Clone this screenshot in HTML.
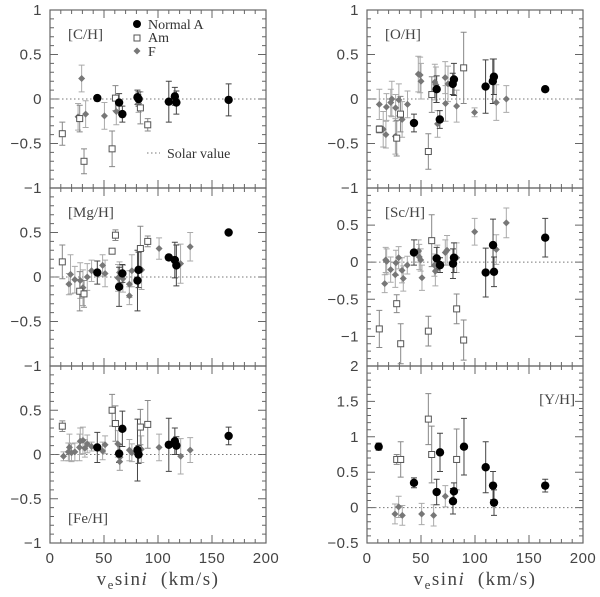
<!DOCTYPE html>
<html><head><meta charset="utf-8"><style>
html,body{margin:0;padding:0;background:#fff;}
svg{display:block;}
.tk{font-family:"Liberation Sans",sans-serif;font-size:15px;fill:#444;letter-spacing:0.5px;}
.lb{font-family:"Liberation Serif",serif;font-size:15px;fill:#444;}
.lg{font-family:"Liberation Serif",serif;font-size:14px;fill:#333;}
</style></head><body>
<svg id="chart" width="600" height="597" viewBox="0 0 600 597" xmlns="http://www.w3.org/2000/svg"></svg>
<script>
// ---- data: [vsini, abundance, error] ----
const C_normal=[[43.8,0.01,0.03],[64,-0.04,0.1],[67,-0.17,0.09],[81,0.02,0.08],[82,0,0.08],[110,-0.03,0.23],[115.6,0.03,0.1],[117,-0.04,0.13],[165.4,-0.01,0.18]];
const C_am=[[11.4,-0.39,0.13],[27.5,-0.22,0.15],[31.5,-0.7,0.14],[57.5,-0.56,0.2],[60.6,0.01,0.14],[83.7,-0.1,0.18],[90.5,-0.29,0.07]];
const C_f=[[29.3,0.23,0.15],[26,-0.2,0.15],[33,-0.17,0.15],[50.4,-0.19,0.15],[61.4,-0.14,0.15],[82,-0.05,0.1]];
const O_normal=[[43.5,-0.27,0.1],[64.5,0.11,0.15],[67.4,-0.23,0.1],[79.4,0.17,0.12],[80.5,0.22,0.18],[109.8,0.14,0.3],[116.5,0.2,0.25],[117.5,0.25,0.2],[165,0.11,0.02]];
const O_am=[[11.4,-0.34,0.04],[27.5,-0.44,0.2],[31,-0.17,0.2],[56.8,-0.59,0.2],[60,0.05,0.2],[89.5,0.35,0.4]];
const O_f=[[11.4,-0.06,0.17],[15,-0.34,0.2],[17.5,-0.4,0.15],[18,-0.09,0.15],[22,-0.04,0.15],[23,0,0.2],[26.5,-0.1,0.15],[26.3,-0.42,0.2],[29.5,-0.01,0.18],[32.5,-0.23,0.2],[37.5,-0.06,0.15],[47.5,0.28,0.2],[50,0.2,0.2],[49.2,0.27,0.2],[62.8,0.19,0.2],[63.8,0.16,0.2],[65.3,-0.28,0.15],[72.7,-0.05,0.2],[72.4,0.24,0.18],[75,0.17,0.2],[83,-0.08,0.18],[99.6,-0.15,0.05],[119.7,-0.04,0.2],[129,0,0.15]];
const Mg_normal=[[43.8,0.05,0.13],[64,-0.11,0.22],[67,0.04,0.1],[81,-0.04,0.34],[82,0.08,0.2],[110,0.22,0.03],[115.6,0.19,0.2],[117,0.13,0.23],[165.4,0.5,0.02]];
const Mg_am=[[11.4,0.17,0.19],[27.5,-0.16,0.22],[31.5,-0.19,0.15],[57.5,0.29,0.02],[60.6,0.47,0.06],[83.7,0.32,0.25],[90.5,0.4,0.06]];
const Mg_f=[[17.5,-0.08,0.12],[19,0.03,0.22],[23,-0.03,0.15],[28,-0.04,0.2],[30.5,-0.12,0.2],[34.5,0,0.15],[38.5,0.07,0.12],[48.7,0.13,0.12],[51,0.04,0.15],[63,-0.01,0.15],[64.4,0.05,0.12],[67.5,-0.02,0.15],[73.5,-0.21,0.1],[73.5,-0.08,0.15],[75.8,0.07,0.18],[84.8,0.08,0.22],[101,0.32,0.12],[120.9,0.15,0.22],[129.8,0.34,0.16]];
const Fe_normal=[[43.8,0.08,0.17],[64,0.01,0.1],[67,0.29,0.2],[81,0.05,0.35],[82,0,0.1],[110,0.11,0.3],[115.6,0.15,0.15],[117,0.1,0.1],[165.4,0.21,0.1]];
const Fe_am=[[11.4,0.32,0.06],[57.5,0.5,0.18],[60.6,0.35,0.2],[83.7,0.31,0.2],[90.5,0.34,0.27]];
const Fe_f=[[12.5,-0.02,0.05],[17,0.03,0.1],[18,0.08,0.15],[19.9,0.02,0.1],[23,0.03,0.1],[27.3,0.08,0.15],[28,0.15,0.15],[30.5,0.16,0.15],[32.3,0.07,0.1],[34.5,0.12,0.1],[38.5,0.09,0.05],[48.7,0.04,0.1],[51,0.11,0.1],[62.8,0.12,0.15],[64.5,-0.08,0.1],[64.8,-0.03,0.15],[73.5,0.05,0.12],[75.8,0.02,0.1],[84.5,0.06,0.15],[101,0.08,0.15],[121,-0.02,0.2],[129.8,0.05,0.14]];
const Sc_normal=[[43.5,0.13,0.17],[64.5,0.05,0.15],[67.6,-0.04,0.1],[79.6,-0.02,0.2],[80.5,0.06,0.2],[109.9,-0.14,0.33],[116.7,0.23,0.35],[117.6,-0.13,0.2],[165,0.33,0.26]];
const Sc_am=[[11.4,-0.9,0.25],[27.5,-0.56,0.12],[31.2,-1.1,0.27],[56.8,-0.93,0.2],[59.9,0.29,0.35],[83,-0.63,0.2],[89.5,-1.05,0.27]];
const Sc_f=[[16.4,-0.29,0.12],[17.3,0.03,0.17],[18.2,0.01,0.17],[21.9,-0.1,0.17],[26.2,-0.17,0.17],[26.8,-0.01,0.17],[29.3,0.06,0.15],[32.4,-0.11,0.17],[33.6,-0.22,0.17],[37.3,-0.04,0.12],[47.8,0.15,0.15],[48.4,0.07,0.17],[49.7,0.03,0.15],[50.9,-0.21,0.17],[62.4,-0.04,0.15],[63.3,-0.12,0.2],[65.1,0.06,0.17],[72.5,0.13,0.17],[74.1,0.16,0.2],[83,0.06,0.2],[99.7,0.41,0.18],[119.7,0.17,0.2],[129,0.53,0.2]];
const Y_normal=[[10.8,0.86,0.05],[43.5,0.35,0.07],[64.5,0.22,0.18],[67.6,0.78,0.27],[79.6,0.09,0.18],[80.5,0.23,0.12],[89.8,0.86,0.4],[109.9,0.57,0.36],[116.7,0.31,0.2],[117.6,0.07,0.18],[165,0.31,0.09]];
const Y_am=[[27.5,0.68,0.07],[31.2,0.68,0.25],[56.8,1.25,0.36],[59.9,0.75,0.4],[83,0.68,0.43]];
const Y_f=[[25.9,-0.09,0.14],[29.3,0.01,0.15],[32.7,-0.11,0.14],[50.6,-0.09,0.15],[61.7,-0.11,0.15],[72.5,0.16,0.15]];
const xTickLabels=["0","50","100","150","200"];
const panelNames=["[C/H]","[O/H]","[Mg/H]","[Sc/H]","[Fe/H]","[Y/H]"];
const yRanges=[[-1,1],[-1,1],[-1,1],[-1.4,1],[-1,1],[-0.5,2]];
const yLabelSets=[[1,0.5,0,-0.5,-1],[1,0.5,0,-0.5,-1],[0.5,0,-0.5,-1],[0.5,0,-0.5,-1],[0.5,0,-0.5,-1],[2,1.5,1,0.5,0,-0.5]];

const NS="http://www.w3.org/2000/svg";
const svg=document.getElementById('chart');
function mk(tag,attrs,parent){const e=document.createElementNS(NS,tag);for(const k in attrs)e.setAttribute(k,attrs[k]);(parent||svg).appendChild(e);return e;}
const cols=[[50,266],[367,583]];
const rows=[[10,188],[188,366],[366,543]];
const datasets=[[C_normal,C_am,C_f],[O_normal,O_am,O_f],[Mg_normal,Mg_am,Mg_f],[Sc_normal,Sc_am,Sc_f],[Fe_normal,Fe_am,Fe_f],[Y_normal,Y_am,Y_f]];
function fmt(v){return (v<0?"\u2212":"")+Math.abs(v);}

datasets.forEach((ds,i)=>{
  const c=cols[i%2], r=rows[Math.floor(i/2)], yr=yRanges[i];
  const X=v=>c[0]+(v/200)*(c[1]-c[0]);
  const Y=v=>r[1]-(v-yr[0])/(yr[1]-yr[0])*(r[1]-r[0]);
  const g=mk('g',{});
  
  
  const fr=mk('rect',{x:c[0],y:r[0],width:c[1]-c[0],height:r[1]-r[0],fill:'none',stroke:'#666','stroke-width':1.2},g);
  
  
  let d='';
  for(let v=0;v<=200;v+=10){const x=X(v),L=(v%50===0)?8:4;d+=`M${x} ${r[0]}v${L}M${x} ${r[1]}v${-L}`;}
  const y0=Math.ceil(yr[0]*10-1e-6);
  for(let k=y0;k<=Math.round(yr[1]*10);k++){const y=Y(k/10),L=(k%5===0)?8:4;d+=`M${c[0]} ${y}h${L}M${c[1]} ${y}h${-L}`;}
  const tk=mk('path',{d:d,stroke:'#666','stroke-width':1,fill:'none'},g);
  
  
  yLabelSets[i].forEach(v=>{const t=mk('text',{x:c[0]-8,y:Y(v)+5,'text-anchor':'end',class:'tk'},g);t.textContent=fmt(v);
    
    });
  const sl=mk('line',{x1:c[0],x2:c[1],y1:Y(0),y2:Y(0),stroke:'#777','stroke-width':1,'stroke-dasharray':'1.5,2.5'},g);
  
  
  const pl = (i===5)?mk('text',{x:c[1]-8,y:r[0]+38,'text-anchor':'end',class:'lb'},g)
            :(i===4)?mk('text',{x:c[0]+18,y:r[1]-20,class:'lb'},g)
            :mk('text',{x:c[0]+18,y:r[0]+29,class:'lb'},g);
  pl.textContent=panelNames[i];
  
  
  const [nrm,am,f]=ds;
  function err(arr,col){arr.forEach(p=>{const x=X(p[0]),ya=Y(p[1]+p[2]),yb=Y(p[1]-p[2]);
    const e=mk('path',{d:`M${x} ${ya}V${yb}M${x-3} ${ya}h6M${x-3} ${yb}h6`,stroke:col,'stroke-width':1,fill:'none'},g);
    
    });}
  err(f,'#aaa');err(am,'#888');err(nrm,'#444');
  f.forEach(p=>{const x=X(p[0]),y=Y(p[1]);const m=mk('path',{d:`M${x} ${y-3.5}L${x+3.5} ${y}L${x} ${y+3.5}L${x-3.5} ${y}Z`,fill:'#777'},g);
    
    });
  am.forEach(p=>{const x=X(p[0]),y=Y(p[1]);const m=mk('rect',{x:x-3,y:y-3,width:6,height:6,fill:'#fff',stroke:'#555','stroke-width':1},g);
    
    });
  nrm.forEach(p=>{const m=mk('circle',{cx:X(p[0]),cy:Y(p[1]),r:4.2,fill:'#000'},g);
    
    });
  if(i>=4){xTickLabels.forEach((s,k)=>{const t=mk('text',{x:X(k*50),y:r[1]+20,'text-anchor':'middle',class:'tk'},g);t.textContent=s;
      
      });
    const at=mk('text',{x:(c[0]+c[1])/2,y:585,'text-anchor':'middle',class:'lb'},g);
    at.setAttribute('style','font-size:19px;letter-spacing:1.5px');
    at.innerHTML='v<tspan dy="4" style="font-size:13px">e</tspan><tspan dy="-4">sin</tspan><tspan font-style="italic">i</tspan>&#160;&#160;(km/s)';
    
    }
});
const lg=mk('g',{});


mk('circle',{cx:137,cy:24,r:4,fill:'#000'},lg);
mk('rect',{x:134,y:35,width:6,height:6,fill:'#fff',stroke:'#555'},lg);
mk('path',{d:'M137 47.5L140.5 51L137 54.5L133.5 51Z',fill:'#777'},lg);
[['Normal A',29],['Am',42],['F',56]].forEach(a=>{const t=mk('text',{x:148,y:a[1],class:'lg'},lg);t.textContent=a[0];
  
  });
mk('line',{x1:147,x2:160,y1:153,y2:153,stroke:'#777','stroke-dasharray':'1.5,2.5'},lg);
const sv=mk('text',{x:167,y:158,class:'lg'},lg);sv.textContent='Solar value';


</script>
</body></html>
